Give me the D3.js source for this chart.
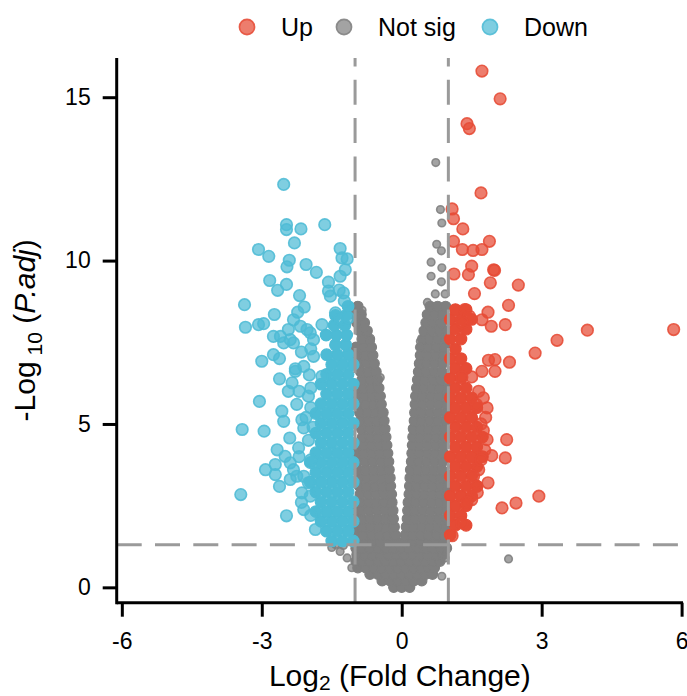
<!DOCTYPE html>
<html>
<head>
<meta charset="utf-8">
<script src="https://cdn.jsdelivr.net/npm/d3@7"></script>
<style>
  body { margin: 0; background: #fff; }
  text { font-family: "Liberation Sans", Arial, sans-serif; }
</style>
</head>
<body>
<div id="chart"></div>
<script>
// not significant genes, dense cloud read row by row: [ -log10 padj, [log2FC ...] ]
const notSigRows = [
  [0.0, [-0.17, 0, 0.17]],
  [0.2, [-0.42, -0.25, -0.08, 0.09, 0.26, 0.43]],
  [0.4, [-0.68, -0.51, -0.34, -0.17, 0, 0.17, 0.34, 0.51, 0.66]],
  [0.6, [-0.94, -0.77, -0.6, -0.43, -0.26, -0.09, 0.08, 0.25, 0.42, 0.59, 0.7]],
  [0.8, [-0.98, -0.85, -0.68, -0.51, -0.34, -0.17, 0, 0.17, 0.34, 0.51, 0.68, 0.82]],
  [1.0, [-0.96, -0.79, -0.62, -0.45, -0.28, -0.11, 0.06, 0.23, 0.4, 0.57, 0.74, 0.88]],
  [1.2, [-0.98, -0.85, -0.68, -0.51, -0.34, -0.17, 0, 0.17, 0.34, 0.51, 0.68, 0.85, 0.96]],
  [1.4, [-0.96, -0.79, -0.62, -0.45, -0.28, -0.11, 0.06, 0.23, 0.4, 0.57, 0.74, 0.91]],
  [1.6, [-0.98, -0.81, -0.64, -0.47, -0.3, -0.14, 0.08, 0.24, 0.41, 0.58, 0.75, 0.92]],
  [1.85, [-0.99, -0.83, -0.66, -0.49, -0.32, -0.16, 0.1, 0.26, 0.43, 0.6, 0.77, 0.94]],
  [2.1, [-0.99, -0.85, -0.68, -0.51, -0.34, -0.18, 0.12, 0.28, 0.45, 0.62, 0.79, 0.96]],
  [2.35, [-0.99, -0.86, -0.69, -0.52, -0.35, -0.19, 0.13, 0.29, 0.46, 0.63, 0.8, 0.97]],
  [2.6, [-0.88, -0.71, -0.54, -0.37, -0.21, 0.14, 0.3, 0.47, 0.64, 0.81, 0.97]],
  [2.85, [-0.89, -0.72, -0.55, -0.38, -0.22, 0.16, 0.32, 0.49, 0.66, 0.83, 0.98]],
  [3.1, [-0.91, -0.74, -0.57, -0.4, -0.24, 0.17, 0.33, 0.5, 0.67, 0.84, 0.98]],
  [3.35, [-0.92, -0.75, -0.58, -0.41, -0.25, 0.18, 0.34, 0.51, 0.68, 0.85, 0.98]],
  [3.6, [-0.94, -0.77, -0.6, -0.43, -0.27, 0.19, 0.35, 0.52, 0.69, 0.86]],
  [3.85, [-0.95, -0.78, -0.61, -0.44, -0.28, 0.21, 0.37, 0.54, 0.71, 0.88]],
  [4.1, [-0.97, -0.8, -0.63, -0.46, -0.3, 0.22, 0.38, 0.55, 0.72, 0.89]],
  [4.35, [-0.98, -0.82, -0.65, -0.48, -0.32, 0.23, 0.39, 0.56, 0.73, 0.9]],
  [4.6, [-0.84, -0.67, -0.5, -0.34, 0.24, 0.4, 0.57, 0.74, 0.91]],
  [4.85, [-0.86, -0.69, -0.52, -0.36, 0.25, 0.41, 0.58, 0.75, 0.92]],
  [5.1, [-0.88, -0.71, -0.54, -0.38, 0.27, 0.43, 0.6, 0.77, 0.94]],
  [5.35, [-0.9, -0.73, -0.56, -0.4, 0.28, 0.44, 0.61, 0.78, 0.95]],
  [5.6, [-0.94, -0.77, -0.6, -0.44, 0.29, 0.45, 0.62, 0.79, 0.96]],
  [5.85, [-0.96, -0.79, -0.62, -0.46, 0.3, 0.46, 0.63, 0.8, 0.97]],
  [6.1, [-0.98, -0.82, -0.65, -0.49, 0.32, 0.48, 0.65, 0.82, 0.98]],
  [6.35, [-0.85, -0.68, -0.52, 0.34, 0.5, 0.67, 0.84]],
  [6.6, [-0.88, -0.71, -0.55, 0.36, 0.52, 0.69, 0.86]],
  [6.85, [-0.92, -0.75, -0.59, 0.38, 0.54, 0.71, 0.88]],
  [7.1, [-0.95, -0.78, -0.62, 0.4, 0.56, 0.73, 0.9]],
  [7.35, [-0.98, -0.81, -0.65, 0.42, 0.58, 0.75, 0.92]],
  [7.6, [-0.85, -0.69, 0.45, 0.61, 0.78, 0.95]],
  [7.85, [-0.9, -0.74, 0.48, 0.64, 0.81, 0.97]],
  [8.1, [-0.96, -0.8, 0.52, 0.68, 0.85]],
  [8.35, [-0.99, -0.87, 0.55, 0.71, 0.88]],
  [8.6, [-0.94, 0.61, 0.77, 0.94]]
];
// loose not-significant points: [log2FC, -log10 padj]
const notSigExtra = [
  [0.73, 13.0], [0.83, 11.56], [0.86, 11.15], [0.75, 10.5], [0.85, 10.3], [0.63, 9.95],
  [0.86, 9.78], [0.63, 9.52], [0.72, 8.98], [0.93, 8.98], [0.55, 8.72], [0.85, 9.35],
  [0.4, 7.53], [0.38, 7.35], [-0.95, 8.62], [-0.85, 8.48], [-1.0, 8.3], [-0.8, 7.95],
  [-0.67, 7.53], [-0.46, 6.42], [-1.5, 1.22], [-1.32, 1.1], [-1.17, 0.9], [-1.07, 0.6],
  [-1.42, 1.31], [-1.25, 1.28], [0.86, 0.34], [0.93, 0.9], [2.29, 0.87]
];

// down-regulated genes, dense band next to the cutoff
const downRows = [
  [1.42, [-1.04, -1.27, -1.5]],
  [1.72, [-1.15, -1.38, -1.61]],
  [2.02, [-1.04, -1.27, -1.5, -1.73]],
  [2.32, [-1.15, -1.38, -1.61, -1.84]],
  [2.62, [-1.04, -1.27, -1.5, -1.73]],
  [2.92, [-1.15, -1.38, -1.61, -1.84]],
  [3.22, [-1.04, -1.27, -1.5, -1.73, -1.96]],
  [3.52, [-1.15, -1.38, -1.61, -1.84]],
  [3.82, [-1.04, -1.27, -1.5, -1.73, -1.96]],
  [4.12, [-1.15, -1.38, -1.61, -1.84]],
  [4.42, [-1.04, -1.27, -1.5, -1.73]],
  [4.72, [-1.15, -1.38, -1.61, -1.84]],
  [5.02, [-1.04, -1.27, -1.5, -1.73]],
  [5.32, [-1.15, -1.38, -1.61, -1.84]],
  [5.62, [-1.04, -1.27, -1.5, -1.73]],
  [5.92, [-1.15, -1.38, -1.61]],
  [6.22, [-1.04, -1.27, -1.5, -1.73]],
  [6.52, [-1.15, -1.38, -1.61]],
  [6.82, [-1.04, -1.27, -1.5]],
  [7.12, [-1.15, -1.38, -1.61]],
  [7.42, [-1.2, -1.42]],
  [7.72, [-1.18, -1.4, -1.62]],
  [8.02, [-1.22, -1.45]],
  [8.32, [-1.2, -1.42]],
  [8.6, [-1.15]]
];
const downPoints = [
  [-2.53, 12.33], [-2.47, 11.1], [-2.47, 10.95], [-2.16, 10.97], [-1.65, 11.1], [-2.3, 10.54],
  [-3.07, 10.34], [-2.85, 10.13], [-2.41, 10.01], [-2.46, 9.81], [-2.05, 9.88], [-1.83, 9.64],
  [-1.32, 10.37], [-1.28, 10.08], [-1.17, 10.05], [-1.21, 9.72], [-1.32, 9.52], [-2.83, 9.39],
  [-2.66, 9.09], [-2.47, 9.27], [-2.19, 8.93], [-2.09, 8.58], [-2.23, 8.42], [-1.57, 9.34],
  [-1.57, 9.07], [-1.53, 8.91], [-1.25, 9.01], [-1.23, 8.76], [-3.37, 8.65], [-2.73, 8.35],
  [-3.35, 7.96], [-3.07, 8.04], [-2.96, 8.07], [-2.75, 7.68], [-2.43, 7.89], [-2.17, 7.99],
  [-1.96, 7.79], [-1.71, 8.04], [-1.42, 8.4], [-1.32, 8.2], [-3.0, 6.92], [-2.75, 7.12],
  [-2.62, 7.0], [-2.32, 7.48], [-2.53, 7.48], [-2.28, 6.69], [-2.62, 6.38], [-2.28, 6.61],
  [-2.43, 6.0], [-2.35, 6.26], [-3.05, 5.69], [-2.57, 5.39], [-2.53, 5.08], [-2.14, 5.13],
  [-3.42, 4.83], [-2.95, 4.78], [-2.4, 4.57], [-2.67, 4.21], [-2.5, 4.01], [-2.92, 3.6],
  [-2.71, 3.76], [-2.71, 3.45], [-2.39, 3.3], [-2.25, 3.4], [-2.62, 3.09], [-3.45, 2.84],
  [-2.14, 2.89], [-2.1, 2.38], [-2.47, 2.19], [-1.85, 1.77], [-1.34, 9.1], [-1.14, 8.25],
  [-2.32, 8.19], [-2.03, 7.89], [-2.39, 7.58], [-2.6, 7.68], [-1.89, 7.58], [-1.89, 7.07],
  [-2.1, 6.76], [-2.0, 5.85], [-1.71, 6.46], [-2.1, 4.88], [-2.32, 3.6], [-2.1, 3.4],
  [-2.21, 4.27], [-2.39, 3.81], [-1.96, 2.79], [-1.95, 7.3], [-2.15, 7.2], [-1.98, 6.5],
  [-2.2, 6.0], [-1.95, 5.5], [-2.25, 5.6], [-2.0, 4.5], [-2.2, 4.0], [-1.95, 3.9],
  [-2.0, 3.2], [-2.15, 2.6], [-1.95, 2.2], [-1.9, 4.9], [-1.95, 6.1], [-2.05, 5.2]
];

// up-regulated genes, dense band next to the cutoff
const upRows = [
  [1.6, [1.04]],
  [1.9, [1.15, 1.38]],
  [2.2, [1.04, 1.27]],
  [2.5, [1.15, 1.38]],
  [2.8, [1.04, 1.27, 1.5]],
  [3.1, [1.15, 1.38, 1.61]],
  [3.4, [1.04, 1.27, 1.5]],
  [3.7, [1.15, 1.38, 1.61]],
  [4.0, [1.04, 1.27, 1.5, 1.73]],
  [4.3, [1.15, 1.38, 1.61]],
  [4.6, [1.04, 1.27, 1.5, 1.73]],
  [4.9, [1.15, 1.38, 1.61]],
  [5.2, [1.04, 1.27, 1.5]],
  [5.5, [1.15, 1.38, 1.61]],
  [5.8, [1.04, 1.27, 1.5]],
  [6.1, [1.15, 1.38]],
  [6.4, [1.04, 1.27]],
  [6.7, [1.15, 1.38]],
  [7.0, [1.04, 1.27]],
  [7.3, [1.15]],
  [7.6, [1.04, 1.27]],
  [7.9, [1.15, 1.38]],
  [8.2, [1.04, 1.27, 1.5]],
  [8.5, [1.15, 1.38]]
];
const upPoints = [
  [1.72, 15.8], [2.11, 14.95], [1.4, 14.19], [1.45, 14.04], [1.7, 12.07], [1.08, 11.58],
  [1.11, 11.28], [1.31, 10.97], [1.11, 10.59], [1.3, 10.34], [1.53, 10.31], [1.72, 10.34],
  [1.88, 10.59], [1.5, 9.83], [1.43, 9.57], [1.12, 9.59], [1.97, 9.72], [1.99, 9.7],
  [1.9, 9.32], [2.5, 9.25], [1.56, 8.99], [2.29, 8.63], [1.85, 8.42], [2.22, 8.04],
  [1.92, 7.99], [1.72, 8.19], [2.86, 7.17], [3.33, 7.56], [3.98, 7.87], [5.83, 7.89],
  [2.31, 6.89], [1.86, 6.95], [2.0, 6.97], [1.72, 6.61], [2.0, 6.61], [1.5, 6.44],
  [1.29, 6.44], [1.65, 6.0], [1.83, 5.49], [1.8, 5.2], [2.25, 4.52], [1.83, 4.52],
  [1.93, 4.03], [2.22, 3.96], [1.65, 3.6], [1.54, 3.4], [1.61, 3.09], [1.5, 2.68],
  [1.4, 2.6], [2.15, 2.43], [2.45, 2.58], [2.94, 2.79], [1.29, 1.97], [1.08, 1.58],
  [1.35, 8.5], [1.45, 8.3], [1.3, 8.1], [1.75, 5.8], [1.7, 5.0], [1.78, 4.2],
  [1.7, 3.9], [1.75, 4.8], [1.6, 5.6], [1.62, 2.9], [1.85, 3.2]
];

const xTicks = [-6, -3, 0, 3, 6];
const yTicks = [0, 5, 10, 15];
const fcCutoffs = [-1, 1];
const padjCutoff = 1.3; // -log10(0.05)
const groups = ["Up", "Not sig", "Down"];
const groupColors = ["#E64B35", "#7F7F7F", "#4DBBD5"];

const width = 687;
const height = 696;
const panel = { left: 116.7, right: 683, top: 58, bottom: 602.7 };

const svg = d3.select("#chart").append("svg")
  .attr("width", width)
  .attr("height", height);

const x = d3.scaleLinear().domain([-6.11, 6.03]).range([panel.left, panel.right]);
const y = d3.scaleLinear().domain([-0.47, 16.2]).range([panel.bottom, panel.top]);
const color = d3.scaleOrdinal().domain(groups).range(groupColors);

const rowsToPoints = (rows) => rows.flatMap(([yv, xs]) => xs.map((xv) => [xv, yv]));

// dense cores are thousands of overlapping points, so they read as a solid colour
const layers = [
  { group: "Not sig", r: 5.1, dense: true, data: rowsToPoints(notSigRows) },
  { group: "Not sig", r: 3.8, dense: false, data: notSigExtra },
  { group: "Down", r: 5.8, dense: true, data: rowsToPoints(downRows) },
  { group: "Down", r: 5.8, dense: false, data: downPoints },
  { group: "Up", r: 5.8, dense: true, data: rowsToPoints(upRows) },
  { group: "Up", r: 5.8, dense: false, data: upPoints }
];

const dotStyle = (sel, c, dense) => sel
  .style("fill", c)
  .style("fill-opacity", dense ? 1 : 0.72)
  .style("stroke", c)
  .style("stroke-opacity", dense ? 1 : 0.88)
  .style("stroke-width", dense ? 1.2 : 1.6);

layers.forEach((layer) => {
  svg.append("g").selectAll("circle").data(layer.data).enter().append("circle")
    .attr("cx", (d) => x(d[0]))
    .attr("cy", (d) => y(d[1]))
    .attr("r", layer.r)
    .call(dotStyle, color(layer.group), layer.dense);
});

// cutoff lines
const dash = "25,13.3";
svg.append("g").selectAll("line").data(fcCutoffs).enter().append("line")
  .attr("x1", (d) => x(d))
  .attr("x2", (d) => x(d))
  .attr("y1", panel.bottom)
  .attr("y2", panel.top)
  .style("stroke", "#9a9a9a")
  .style("stroke-width", 3)
  .style("stroke-dasharray", dash);

svg.append("line")
  .attr("x1", panel.left)
  .attr("x2", panel.right)
  .attr("y1", y(padjCutoff))
  .attr("y2", y(padjCutoff))
  .style("stroke", "#9a9a9a")
  .style("stroke-width", 3)
  .style("stroke-dasharray", dash);

// axes
const xAxis = svg.append("g")
  .attr("transform", `translate(0,${panel.bottom})`)
  .call(d3.axisBottom(x).tickValues(xTicks).tickSize(14).tickPadding(16).tickFormat(d3.format("d")));
const yAxis = svg.append("g")
  .attr("transform", `translate(${panel.left},0)`)
  .call(d3.axisLeft(y).tickValues(yTicks).tickSize(14).tickPadding(12).tickFormat(d3.format("d")));

[xAxis, yAxis].forEach((ax) => {
  ax.select(".domain").remove();
  ax.selectAll(".tick line").style("stroke", "#000").style("stroke-width", 3);
  ax.selectAll(".tick text")
    .style("font-size", "23px")
    .style("fill", "#000")
    .style("font-family", "'Liberation Sans', Arial, sans-serif");
});
xAxis.selectAll(".tick text").text((d) => d < 0 ? "-" + Math.abs(d) : d);

svg.append("line")
  .attr("x1", panel.left).attr("x2", panel.right)
  .attr("y1", panel.bottom).attr("y2", panel.bottom)
  .style("stroke", "#000").style("stroke-width", 3);
svg.append("line")
  .attr("x1", panel.left).attr("x2", panel.left)
  .attr("y1", panel.top).attr("y2", panel.bottom + 1.5)
  .style("stroke", "#000").style("stroke-width", 3);

// axis titles
const xTitle = svg.append("text")
  .attr("x", (panel.left + panel.right) / 2)
  .attr("y", 686)
  .attr("text-anchor", "middle")
  .style("font-size", "30px");
xTitle.append("tspan").text("Log");
xTitle.append("tspan").attr("dy", 4).style("font-size", "21px").text("2");
xTitle.append("tspan").attr("dy", -4).text(" (Fold Change)");

const yTitle = svg.append("text")
  .attr("transform", `translate(35,${(panel.top + panel.bottom) / 2}) rotate(-90)`)
  .attr("text-anchor", "middle")
  .style("font-size", "30px");
yTitle.append("tspan").text("-Log");
yTitle.append("tspan").attr("dx", 6).attr("dy", 7).style("font-size", "21px").text("10");
yTitle.append("tspan").attr("dy", -7).text(" (");
yTitle.append("tspan").style("font-style", "italic").text("P.adj");
yTitle.append("tspan").text(")");

// legend
const legendX = [247, 344, 490];
const legend = svg.append("g").selectAll("g").data(groups).enter().append("g")
  .attr("transform", (d, i) => `translate(${legendX[i]},27)`);
legend.append("circle")
  .attr("r", 7.6)
  .each(function (d) { d3.select(this).call(dotStyle, color(d), false); });
legend.append("text")
  .attr("x", 34)
  .attr("y", 9)
  .style("font-size", "25px")
  .text((d) => d);
</script>
</body>
</html>
